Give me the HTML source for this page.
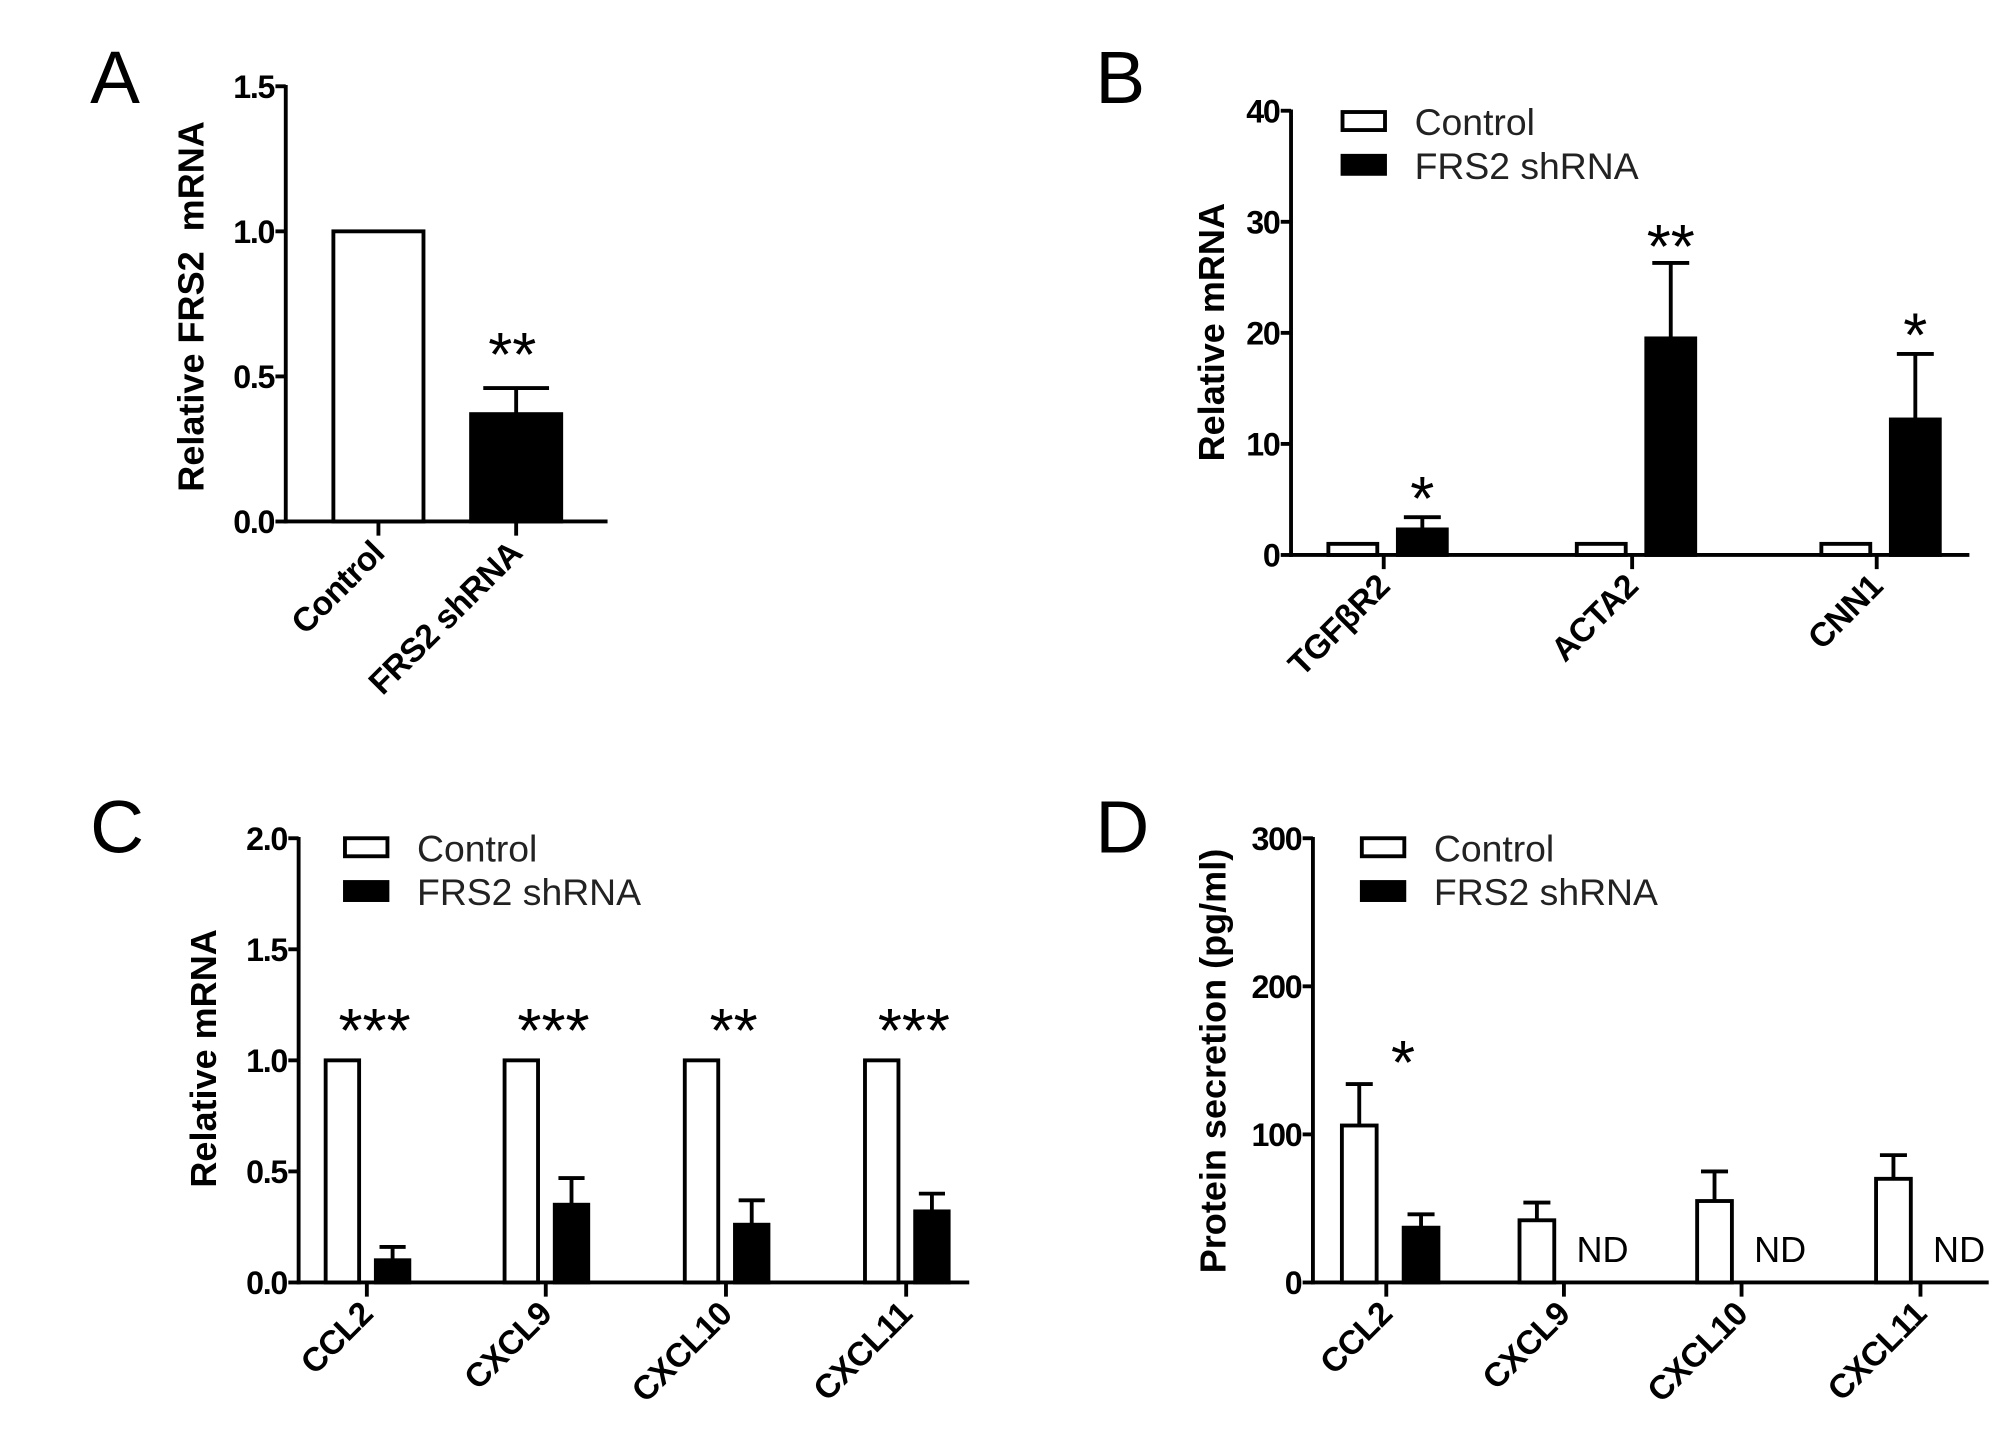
<!DOCTYPE html>
<html><head><meta charset="utf-8"><style>
html,body{margin:0;padding:0;background:#fff;}
svg{display:block;}
text{font-family:"Liberation Sans",Arial,sans-serif;fill:#000;}
.tick{font-weight:bold;font-size:25px;letter-spacing:-1px;}
.xl{font-weight:bold;font-size:26px;letter-spacing:-0.5px;}
.yt{font-weight:bold;font-size:28px;}
.leg{font-size:29px;fill:#222;}
.pl{font-size:58px;}
.star{font-size:48px;}
</style></head><body>
<svg id="fig" width="2008" height="1446" viewBox="0 0 1560 1123" preserveAspectRatio="none" xmlns="http://www.w3.org/2000/svg">
<rect width="1560" height="1123" fill="#fff"/>
</svg>
<script>
// Panel A
const aCats = ["Control", "FRS2 shRNA"];
const aVals = [1.0, 0.37];
const aErr = [null, 0.46];
const aTicks = [0.0, 0.5, 1.0, 1.5];
const aTickLabels = ["0.0", "0.5", "1.0", "1.5"];
const aStars = ["", "**"];
// Panel B
const bCats = ["TGFβR2", "ACTA2", "CNN1"];
const bControl = [1.0, 1.0, 1.0];
const bShrna = [2.3, 19.5, 12.2];
const bShrnaErr = [3.4, 26.3, 18.1];
const bTicks = [0, 10, 20, 30, 40];
const bTickLabels = ["0", "10", "20", "30", "40"];
const bStars = ["*", "**", "*"];
// Panel C
const cCats = ["CCL2", "CXCL9", "CXCL10", "CXCL11"];
const cControl = [1.0, 1.0, 1.0, 1.0];
const cShrna = [0.10, 0.35, 0.26, 0.32];
const cShrnaErr = [0.16, 0.47, 0.37, 0.40];
const cTicks = [0.0, 0.5, 1.0, 1.5, 2.0];
const cTickLabels = ["0.0", "0.5", "1.0", "1.5", "2.0"];
const cStars = ["***", "***", "**", "***"];
// Panel D
const dCats = ["CCL2", "CXCL9", "CXCL10", "CXCL11"];
const dControl = [106, 42, 55, 70];
const dControlErr = [134, 54, 75, 86];
const dShrna = [37, null, null, null];
const dShrnaErr = [46, null, null, null];
const dTicks = [0, 100, 200, 300];
const dTickLabels = ["0", "100", "200", "300"];
const dStars = ["*", "", "", ""];

const NS = "http://www.w3.org/2000/svg";
const svg = document.getElementById("fig");
function el(tag, attrs, parent, txt) {
  const e = document.createElementNS(NS, tag);
  for (const k in attrs) e.setAttribute(k, attrs[k]);
  if (txt !== undefined) e.textContent = txt;
  (parent || svg).appendChild(e);
  return e;
}

function panel(cfg) {
  const g = el("g", {});
  
  
  const y = v => cfg.y0 - (v / cfg.max) * (cfg.y0 - cfg.y1);
  const pl = el("text", {x: cfg.letterX, y: cfg.letterY, class: "pl"}, g, cfg.letter);
  
  
  const yt = el("text", {x: 0, y: 0, class: "yt", "text-anchor": "middle", transform: `translate(${cfg.ytX},${cfg.ytY}) rotate(-90)`}, g, cfg.ytitle);
  
  
  const drawBar = (cx, w, v, ev, fill, nm) => {
    if (v === null) return;
    const top = y(v);
    if (ev !== null && ev !== undefined) {
      const eg = el("g", {stroke: "#000", "stroke-width": 3}, g);
      
      
      el("line", {x1: cx, x2: cx, y1: top, y2: y(ev)}, eg);
      el("line", {x1: cx - w * 0.35, x2: cx + w * 0.35, y1: y(ev), y2: y(ev)}, eg);
    }
    const r = el("rect", {x: cx - w / 2 + 1.5, y: top, width: w - 3, height: cfg.y0 - top, fill: fill, stroke: "#000", "stroke-width": 3}, g);
    
    
  };
  cfg.centers.forEach((c, i) => {
    const cat = cfg.cats[i].toLowerCase().replace(/[^a-z0-9]+/g, '-');
    if (cfg.single) {
      drawBar(c, cfg.bw, cfg.vals[i], cfg.errs[i], i === 0 ? "#fff" : "#000", 'bar-' + cat);
    } else {
      drawBar(c + cfg.offC, cfg.bw, cfg.ctrl[i], cfg.ctrlErr ? cfg.ctrlErr[i] : null, "#fff", 'bar-control-' + cat);
      drawBar(c + cfg.offS, cfg.bw, cfg.shr[i], cfg.shrErr[i], "#000", 'bar-shrna-' + cat);
    }
    if (cfg.stars[i]) {
      const s = el("text", {x: cfg.starX(c, i), y: cfg.starY(i), class: "star", "text-anchor": "middle"}, g, cfg.stars[i]);
      
      
    }
    if (cfg.nd && cfg.shr[i] === null) {
      const n = el("text", {x: c + cfg.offS + 3, y: cfg.y0 - 16, "font-size": 28, fill: "#222", "text-anchor": "middle"}, g, "ND");
      
      
    }
    const tk = el("line", {x1: c, x2: c, y1: cfg.y0, y2: cfg.y0 + 11, stroke: "#000", "stroke-width": 3}, g);
    
    
    const lx = c + 6, ly = cfg.y0 + 26;
    const xl = el("text", {x: 0, y: 0, class: "xl", "text-anchor": "end", transform: `translate(${lx},${ly}) rotate(-45)`}, g, cfg.cats[i]);
    
    
  });
  const ax = el("g", {stroke: "#000", "stroke-width": 3}, g);
  
  
  el("line", {x1: cfg.ax, x2: cfg.ax, y1: cfg.y1 - 1, y2: cfg.y0 + 1.5}, ax);
  el("line", {x1: cfg.ax - 1.5, x2: cfg.axEnd, y1: cfg.y0, y2: cfg.y0}, ax);
  cfg.ticks.forEach((t, i) => {
    el("line", {x1: cfg.ax - 8, x2: cfg.ax, y1: y(t), y2: y(t)}, ax);
    const tl = el("text", {x: cfg.ax - 9, y: y(t) + 9, class: "tick", "text-anchor": "end"}, g, cfg.tickLabels[i]);
    
    
  });
  if (cfg.legX) {
    const lg = el("g", {}, g);
    
    
    const e1 = el("g", {}, lg);
    
    
    el("rect", {x: cfg.legX, y: cfg.legY, width: 33, height: 14, fill: "#fff", stroke: "#000", "stroke-width": 3}, e1);
    el("text", {x: cfg.legX + 56, y: cfg.legY + 18, class: "leg"}, e1, "Control");
    const e2 = el("g", {}, lg);
    
    
    el("rect", {x: cfg.legX, y: cfg.legY + 34, width: 33, height: 14, fill: "#000", stroke: "#000", "stroke-width": 3}, e2);
    el("text", {x: cfg.legX + 56, y: cfg.legY + 52, class: "leg"}, e2, "FRS2 shRNA");
  }
}

panel({name: "panel-a", letter: "A", letterX: 70, letterY: 80, ytitle: "Relative FRS2\u00a0\u00a0mRNA", ytX: 158, ytY: 238,
  ax: 222, axEnd: 472, y0: 405, y1: 67, max: 1.5, ticks: aTicks, tickLabels: aTickLabels,
  cats: aCats, centers: [294, 401], single: true, bw: 73, vals: aVals, errs: aErr, stars: aStars,
  starX: (c) => c - 3, starY: () => 292});

panel({name: "panel-b", letter: "B", letterX: 851, letterY: 80, ytitle: "Relative mRNA", ytX: 951, ytY: 258,
  ax: 1003, axEnd: 1530, y0: 431, y1: 86, max: 40, ticks: bTicks, tickLabels: bTickLabels,
  cats: bCats, centers: [1075, 1268, 1458], bw: 41, offC: -24, offS: 30,
  ctrl: bControl, shr: bShrna, shrErr: bShrnaErr, stars: bStars,
  starX: (c) => c + 30, starY: (i) => [404, 208, 277][i], legX: 1043, legY: 87});

panel({name: "panel-c", letter: "C", letterX: 70, letterY: 662, ytitle: "Relative mRNA", ytX: 168, ytY: 822,
  ax: 232, axEnd: 753, y0: 996, y1: 651, max: 2.0, ticks: cTicks, tickLabels: cTickLabels,
  cats: cCats, centers: [285, 424, 564, 704], bw: 29, offC: -19, offS: 20,
  ctrl: cControl, shr: cShrna, shrErr: cShrnaErr, stars: cStars,
  starX: (c) => c + 6, starY: () => 817, legX: 268, legY: 651});

panel({name: "panel-d", letter: "D", letterX: 851, letterY: 662, ytitle: "Protein secretion (pg/ml)", ytX: 952, ytY: 824,
  ax: 1020, axEnd: 1545, y0: 996, y1: 651, max: 300, ticks: dTicks, tickLabels: dTickLabels,
  cats: dCats, centers: [1077, 1215, 1353, 1492], bw: 30, offC: -21, offS: 27,
  ctrl: dControl, ctrlErr: dControlErr, shr: dShrna, shrErr: dShrnaErr, stars: dStars, nd: true,
  starX: (c) => c + 13, starY: () => 842, legX: 1058, legY: 651});
</script>
</body></html>
